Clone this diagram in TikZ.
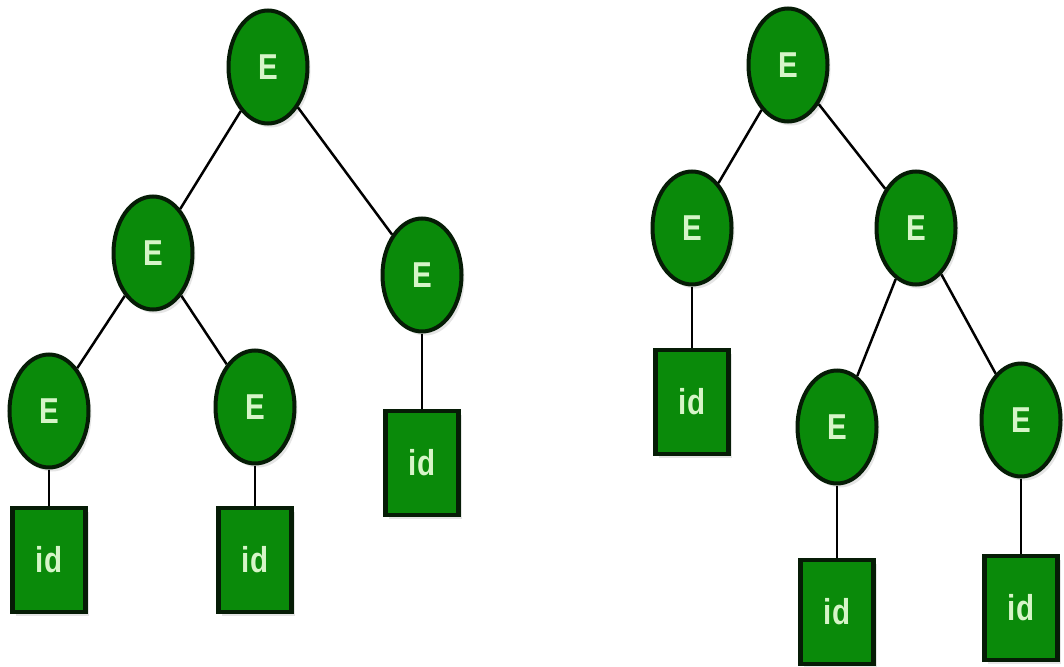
\documentclass[tikz,border=0pt]{standalone}
\usepackage{fontspec}
\setmainfont[FakeStretch=0.82]{Liberation Sans}
\usetikzlibrary{shapes.geometric,shadows}
\definecolor{nodegreen}{RGB}{10,138,10}
\definecolor{rimgreen}{RGB}{6,28,6}
\definecolor{txtgreen}{RGB}{214,245,200}
\tikzset{
  enode/.style={ellipse,draw=rimgreen,line width=4pt,fill=nodegreen,text=txtgreen,
    minimum width=79pt,minimum height=113pt,inner sep=0pt,
    font=\fontsize{36}{40}\selectfont\bfseries,
    drop shadow={shadow xshift=3pt,shadow yshift=-4pt,opacity=0.2}},
  idnode/.style={rectangle,draw=rimgreen,line width=4.5pt,fill=nodegreen,text=txtgreen,
    minimum width=73pt,minimum height=104pt,inner sep=0pt,
    font=\fontsize{36}{40}\selectfont\bfseries,
    drop shadow={shadow xshift=3pt,shadow yshift=-4pt,opacity=0.2}},
  link/.style={line width=2.5pt,black}
}
\begin{document}
\begin{tikzpicture}[x=1pt,y=-1pt]
			\useasboundingbox[fill=white] (0,0) rectangle (1064,666);
			% left tree
			\node[enode] (lroot) at (268,67) {E};
			\node[enode] (lmid) at (153,253) {E};
			\node[enode] (lright) at (422,275) {E};
			\node[enode] (lbl) at (49,411) {E};
			\node[enode] (lbm) at (255,407) {E};
			\node[idnode] (lid1) at (49,560) {id};
			\node[idnode] (lid2) at (255,560) {id};
			\node[idnode] (lid3) at (422,463) {id};
			\draw[link] (lroot) -- (lmid);
			\draw[link] (lroot) -- (lright);
			\draw[link] (lmid) -- (lbl);
			\draw[link] (lmid) -- (lbm);
			\draw[link] (lbl) -- (lid1);
			\draw[link] (lbm) -- (lid2);
			\draw[link] (lright) -- (lid3);
			% right tree
			\node[enode] (rroot) at (788,65) {E};
			\node[enode] (rleft) at (692,228) {E};
			\node[enode] (rright) at (916,228) {E};
			\node[idnode] (rid1) at (692,402) {id};
			\node[enode] (rbl) at (837,427) {E};
			\node[enode] (rbr) at (1021,420) {E};
			\node[idnode] (rid2) at (837,612) {id};
			\node[idnode] (rid3) at (1021,608) {id};
			\draw[link] (rroot) -- (rleft);
			\draw[link] (rroot) -- (rright);
			\draw[link] (rleft) -- (rid1);
			\draw[link] (rright) -- (rbl);
			\draw[link] (rright) -- (rbr);
			\draw[link] (rbl) -- (rid2);
			\draw[link] (rbr) -- (rid3);
		\end{tikzpicture}
\end{document}
